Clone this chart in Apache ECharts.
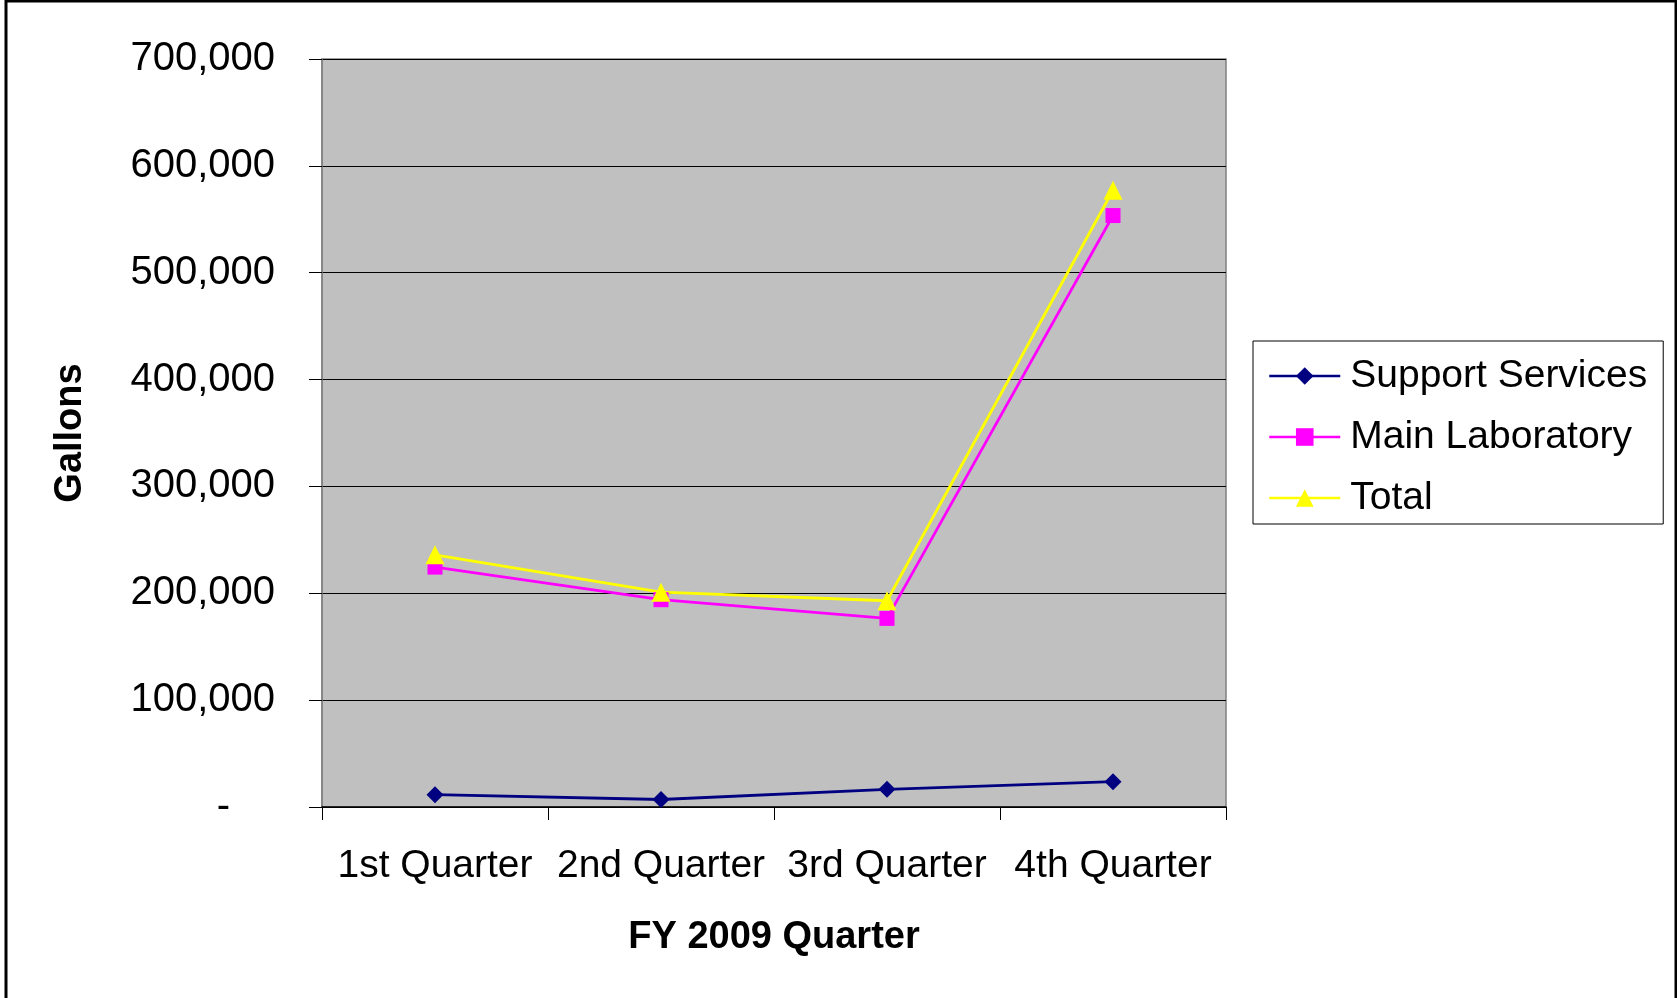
<!DOCTYPE html>
<html>
<head>
<meta charset="utf-8">
<title>FY 2009 Gallons by Quarter</title>
<script src="https://cdn.jsdelivr.net/npm/echarts@6/dist/echarts.min.js"></script>
<style>
  html, body { margin: 0; padding: 0; background: #fff; }
  #chart { width: 1677px; height: 998px; }
</style>
</head>
<body>
<div id="chart"></div>
<script>
// Quarterly water use, in gallons
const quarters = ['1st Quarter', '2nd Quarter', '3rd Quarter', '4th Quarter'];
const supportServices = [11500, 7000, 16500, 23700];
const mainLaboratory = [224500, 194000, 176500, 553500];
const total = [236000, 201000, 193000, 577200];
const yTicks = { min: 0, max: 700000, step: 100000 };

const FONT = "'Liberation Sans', Arial, sans-serif";

const chart = echarts.init(document.getElementById('chart'), null, { renderer: 'canvas' });

function lineSeries(name, data, color, symbol, size) {
  return {
    name: name,
    type: 'line',
    data: data,
    symbol: symbol,
    symbolSize: size,
    showAllSymbol: true,
    lineStyle: { color: color, width: 2.8 },
    itemStyle: { color: color, borderWidth: 0 },
    emphasis: { disabled: true },
    animation: false
  };
}

chart.setOption({
  backgroundColor: '#ffffff',
  textStyle: { fontFamily: FONT },
  graphic: [{
    type: 'rect',
    shape: { x: 6, y: 1, width: 1670, height: 1010 },
    style: { fill: 'none', stroke: '#000', lineWidth: 3 },
    z: 100
  }],
  grid: {
    left: 322, top: 59, right: 451, bottom: 191,
    show: true,
    backgroundColor: '#c0c0c0',
    borderColor: '#808080',
    borderWidth: 1.5
  },
  legend: {
    orient: 'vertical',
    left: 1253,
    top: 341,
    padding: [13, 16, 4, 15],
    itemGap: 17,
    itemWidth: 71,
    itemHeight: 22,
    backgroundColor: '#fff',
    borderColor: '#000',
    borderWidth: 1,
    lineStyle: { width: 2.5 },
    textStyle: { fontFamily: FONT, fontSize: 39, color: '#000', lineHeight: 44, padding: [0, 0, 0, 5] },
    data: ['Support Services', 'Main Laboratory', 'Total']
  },
  xAxis: {
    type: 'category',
    data: quarters,
    boundaryGap: true,
    name: 'FY 2009 Quarter',
    nameLocation: 'middle',
    nameGap: 112,
    nameTextStyle: { fontFamily: FONT, fontSize: 38, fontWeight: 'bold', color: '#000' },
    axisLine: { show: true, lineStyle: { color: '#000', width: 1.5 } },
    axisTick: { show: true, inside: false, length: 13, lineStyle: { color: '#000' } },
    axisLabel: { fontFamily: FONT, fontSize: 39, color: '#000', margin: 40, interval: 0, hideOverlap: false },
    splitLine: { show: false }
  },
  yAxis: {
    type: 'value',
    min: yTicks.min,
    max: yTicks.max,
    interval: yTicks.step,
    name: 'Gallons',
    nameLocation: 'middle',
    nameRotate: 90,
    nameGap: 232,
    nameTextStyle: { fontFamily: FONT, fontSize: 38, fontWeight: 'bold', color: '#000' },
    axisLine: { show: true, lineStyle: { color: '#808080', width: 1.5 } },
    axisTick: { show: true, inside: false, length: 13, lineStyle: { color: '#000' } },
    axisLabel: {
      fontFamily: FONT, fontSize: 40, color: '#000', margin: 47,
      formatter: function (v) {
        return v === 0 ? '{z|-}' : v.toLocaleString('en-US');
      },
      rich: { z: { fontFamily: FONT, fontSize: 40, color: '#000', padding: [0, 45, 0, 0] } }
    },
    splitLine: { show: true, lineStyle: { color: '#000', width: 1 } }
  },
  series: [
    lineSeries('Support Services', supportServices, '#000080', 'diamond', 17),
    lineSeries('Main Laboratory', mainLaboratory, '#ff00ff', 'rect', 15),
    lineSeries('Total', total, '#ffff00', 'triangle', 19)
  ]
});
</script>
</body>
</html>
